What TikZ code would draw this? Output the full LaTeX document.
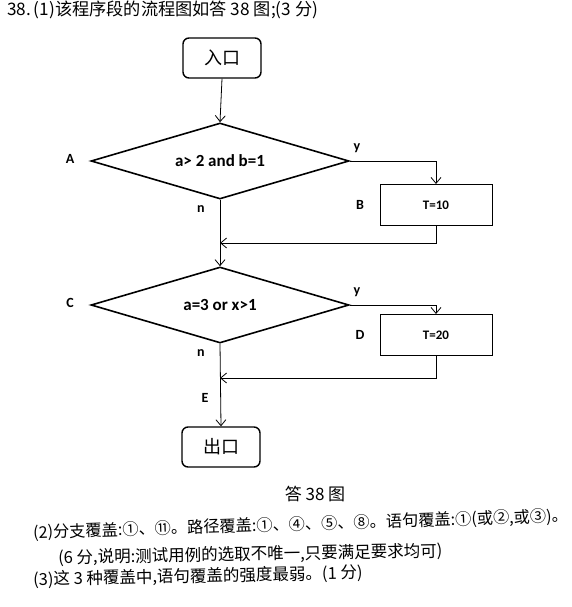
\documentclass[tikz,border=0pt]{standalone}
\usepackage{fontspec}
\setmainfont{Carlito}
\newfontfamily\cjk{Noto Sans CJK SC}
\usetikzlibrary{arrows.meta,shapes.geometric}

\begin{document}
\begin{tikzpicture}[x=1pt,y=-1pt,
    term/.style={draw,line width=1.4pt,rounded corners=6pt,minimum width=78pt,minimum height=40pt,font=\cjk\fontsize{18}{20}\selectfont},
    cond/.style={draw,line width=1.6pt,diamond,aspect=3.4,minimum width=258pt,minimum height=76pt,inner sep=0pt,font=\bfseries\fontsize{17}{19}\selectfont},
    act/.style={draw,line width=1pt,minimum width=112pt,minimum height=41pt,font=\bfseries\fontsize{13}{15}\selectfont},
    flow/.style={line width=0.8pt,-{Straight Barb[length=6pt,width=10pt]}},
    tag/.style={font=\bfseries\fontsize{14}{16}\selectfont},
    txt/.style={anchor=west,inner sep=0pt,font=\cjk\fontsize{16.5}{18}\selectfont}]
    \useasboundingbox (0,0) rectangle (572,607);

    % Draw header
    \node[txt,font=\cjk\fontsize{17.2}{19}\selectfont] (head) at (7,10) {38.\,(1)该程序段的流程图如答 38 图;(3 分)};

    % Draw entry and exit
    \node[term] (entry) at (222,58) {入口};
    \node[term] (exit) at (221,447) {出口};

    % Define decision blocks
    \def\blocks{%
      A/B/161/205/a> 2 and b=1/T=10/243,%
      C/D/305/335/a=3 or x>1/T=20/378%
    }

    % Draw decisions, actions and their branches
    \foreach \dname/\bname/\dy/\by/\dtext/\btext/\jy in \blocks {
        \node[cond] (\dname) at (220,\dy) {\dtext};
        \node[act] (\bname) at (436,\by) {\btext};
        \node[tag] (l\dname) at (70,\dy-2) {\dname};
        \node[tag] (l\bname) at (360,\by) {\bname};
        \node[tag] (y\dname) at (357,\dy-13) {y};
        \node[tag] (n\dname) at (201,\dy+48) {n};
        \coordinate (j\bname) at (220,\jy);
        \draw[flow] (\dname.east) -| (\bname.north);
        \draw[flow] (\bname.south) |- (j\bname);
    }

    % Draw main line
    \draw[flow] (entry.south) -- (A.north);
    \draw[flow] (A.south) -- (C.north);
    \draw[flow] (C.south) -- (exit.north);
    \node[tag] (lE) at (205,398) {E};

    % Draw caption and answers
    \node[font=\cjk\fontsize{17}{19}\selectfont,inner sep=0pt] (cap) at (315,494) {答 38 图};
    \node[txt,font=\cjk\fontsize{16.2}{18}\selectfont,rotate=1.8] (ans2) at (33,533) {(2)分支覆盖:①、⑪。路径覆盖:①、④、⑤、⑧。语句覆盖:①(或②,或③)。};
    \node[txt,rotate=1] (note) at (58,558) {(6 分,说明:测试用例的选取不唯一,只要满足要求均可)};
    \node[txt,rotate=1.2] (ans3) at (33,580) {(3)这 3 种覆盖中,语句覆盖的强度最弱。(1 分)};
\end{tikzpicture}
\end{document}
